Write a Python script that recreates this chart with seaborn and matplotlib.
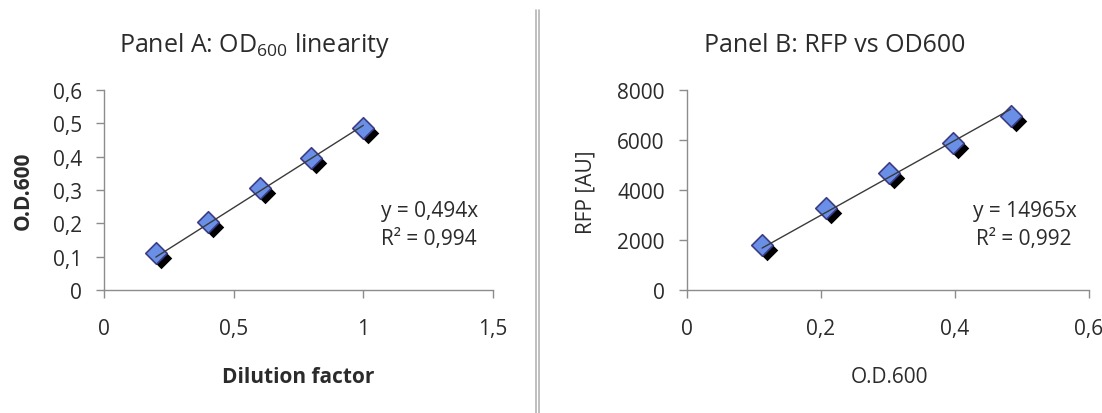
import numpy as np
import pandas as pd
import matplotlib
matplotlib.use("Agg")
import matplotlib.pyplot as plt
import matplotlib.transforms as mtransforms
from matplotlib.lines import Line2D
import seaborn as sns

# Panel A: optical density of a dilution series
dilution = [0.2, 0.4, 0.6, 0.8, 1.0]
od600_a = [0.11, 0.205, 0.305, 0.395, 0.487]
slope_a = 0.494
r2_a = "0,994"

# Panel B: red fluorescence against optical density
od600_b = [0.112, 0.207, 0.302, 0.397, 0.483]
rfp = [1810, 3290, 4670, 5900, 6980]
slope_b = 14965
r2_b = "0,992"

xticks_a = [0, 0.5, 1.0, 1.5]
xticklabels_a = ["0", "0,5", "1", "1,5"]
yticks_a = [0, 0.1, 0.2, 0.3, 0.4, 0.5, 0.6]
yticklabels_a = ["0", "0,1", "0,2", "0,3", "0,4", "0,5", "0,6"]
xticks_b = [0, 0.2, 0.4, 0.6]
xticklabels_b = ["0", "0,2", "0,4", "0,6"]
yticks_b = [0, 2000, 4000, 6000, 8000]
yticklabels_b = ["0", "2000", "4000", "6000", "8000"]

sns.set_theme(style="white")
plt.rcParams["font.family"] = ["Open Sans", "DejaVu Sans"]
plt.rcParams["mathtext.fontset"] = "custom"
plt.rcParams["mathtext.rm"] = "Open Sans"

W, H = 1102, 414
fig = plt.figure(figsize=(W / 100, H / 100), dpi=100)
fig.patch.set_facecolor("white")

def px_axes(left, right, top, bottom):
    return fig.add_axes([left / W, 1 - bottom / H, (right - left) / W, (bottom - top) / H])

ax_a = px_axes(104, 493, 91, 291)
ax_b = px_axes(687, 1089, 91, 291)

AXIS_COLOR = "#8c8c8c"
TEXT_COLOR = "#2b2b2b"
MARKER_FILL = "#6a8fe6"
MARKER_EDGE = "#3c3c86"
TICK_SIZE = 15
LABEL_SIZE = 15
NOTE_SIZE = 15


def draw_panel(ax, x, y, slope, xlim, ylim, xticks, xtl, yticks, ytl):
    df = pd.DataFrame({"x": x, "y": y})
    shadow = mtransforms.offset_copy(ax.transData, fig=fig, x=5, y=-5, units="dots")
    ax.scatter(df["x"], df["y"], marker="D", s=120, color="black",
               linewidths=0, transform=shadow, zorder=2, clip_on=False)
    sns.scatterplot(data=df, x="x", y="y", ax=ax, marker="D", s=120,
                    color=MARKER_FILL, edgecolor=MARKER_EDGE, linewidth=1.2,
                    zorder=3, clip_on=False, legend=False)
    # Trendline through the origin, spanning the measured range
    xs = np.array([min(x), max(x)])
    ax.plot(xs, slope * xs, color="#3a3a3a", lw=1.0, zorder=4)

    ax.set_xlim(*xlim)
    ax.set_ylim(*ylim)
    ax.set_xticks(xticks)
    ax.set_xticklabels(xtl)
    ax.set_yticks(yticks)
    ax.set_yticklabels(ytl)
    for side in ("top", "right"):
        ax.spines[side].set_visible(False)
    for side in ("left", "bottom"):
        ax.spines[side].set_color(AXIS_COLOR)
        ax.spines[side].set_linewidth(1.0)
    ax.tick_params(axis="both", which="both", direction="out", length=6,
                   width=1.0, color=AXIS_COLOR, labelsize=TICK_SIZE,
                   labelcolor=TEXT_COLOR, left=True, bottom=True)
    ax.tick_params(axis="x", pad=14)
    ax.tick_params(axis="y", pad=10)
    ax.set_xlabel("")
    ax.set_ylabel("")
    ax.set_facecolor("white")


draw_panel(ax_a, dilution, od600_a, slope_a, (0, 1.5), (0, 0.6),
           xticks_a, xticklabels_a, yticks_a, yticklabels_a)
draw_panel(ax_b, od600_b, rfp, slope_b, (0, 0.6), (0, 8000),
           xticks_b, xticklabels_b, yticks_b, yticklabels_b)

def ftext(x, y, s, **kw):
    kw.setdefault("color", TEXT_COLOR)
    fig.text(x / W, 1 - y / H, s, **kw)

# Titles
ftext(254, 45, r"Panel A: OD$_{600}$ linearity", fontsize=18, ha="center", va="center")
ftext(835, 45, "Panel B: RFP vs OD600", fontsize=18, ha="center", va="center")

# Axis titles
ftext(298, 378, "Dilution factor", fontsize=LABEL_SIZE, fontweight="bold", ha="center", va="center")
ftext(23, 191, "O.D.600", fontsize=LABEL_SIZE, fontweight="bold", ha="center", va="center", rotation=90)
ftext(889, 378, "O.D.600", fontsize=LABEL_SIZE, ha="center", va="center")
ftext(586, 192, "RFP [AU]", fontsize=LABEL_SIZE, ha="center", va="center", rotation=90)

# Trendline equations
ftext(381, 212, "y = 0,494x", fontsize=NOTE_SIZE, ha="left", va="center")
ftext(381, 240, "R² = " + r2_a, fontsize=NOTE_SIZE, ha="left", va="center")
ftext(1077, 212, f"y = {slope_b}x", fontsize=NOTE_SIZE, ha="right", va="center")
ftext(1072, 240, "R² = " + r2_b, fontsize=NOTE_SIZE, ha="right", va="center")

# Double separator rule between the panels
for xp in (535.5, 538.5):
    fig.add_artist(Line2D([xp / W, xp / W], [0, 1 - 11 / H], transform=fig.transFigure,
                          color="#b4b4b4", lw=1.2))

fig.savefig("out.png", dpi=100, facecolor="white")
